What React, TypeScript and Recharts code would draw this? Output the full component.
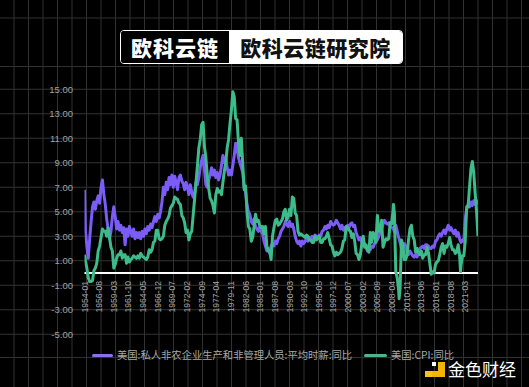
import React from 'react';
import { LineChart, Line, XAxis, YAxis, CartesianGrid, ReferenceLine } from 'recharts';

const W = 529;
const H = 387;
const X_AXIS_H = 1;
const MARGIN = { top: 89.25, right: 51, bottom: 52.75 - X_AXIS_H, left: 44.5 };
const Y_AXIS_W = 40;
const Y_MIN = -5;
const Y_MAX = 15;
const Y_TICKS = [-5, -3, -1, 1, 3, 5, 7, 9, 11, 13, 15];
const START_YEAR = 1954;
const LAST_MONTH = '2023-06';

const X_TICK_LABELS = [
  '1954-01', '1956-08', '1959-03', '1961-10', '1964-05', '1966-12', '1969-07', '1972-02', '1974-09',
  '1977-04', '1979-11', '1982-06', '1985-01', '1987-08', '1990-03', '1992-10', '1995-05', '1997-12',
  '2000-07', '2003-02', '2005-09', '2008-04', '2010-11', '2013-06', '2016-01', '2018-08', '2021-03',
];

const SERIES_NAMES = ['美国:私人非农企业生产和非管理人员:平均时薪:同比', '美国:CPI:同比'];
const SERIES_COLORS = ['#7b5cf7', '#3dbb8b'];
const LEGEND_COLORS = ['#8a6ff2', '#4fb48c'];

const MONTHS = [
  '1954-01', '1954-03', '1954-06', '1954-09', '1954-12',
  '1955-03', '1955-06', '1955-09', '1955-12',
  '1956-03', '1956-06', '1956-09', '1956-12',
  '1957-03', '1957-06', '1957-09', '1957-12',
  '1958-03', '1958-06', '1958-09', '1958-12',
  '1959-03', '1959-06', '1959-09', '1959-12',
  '1960-03', '1960-06', '1960-09', '1960-12',
  '1961-03', '1961-06', '1961-09', '1961-12',
  '1962-03', '1962-06', '1962-09', '1962-12',
  '1963-03', '1963-06', '1963-09', '1963-12',
  '1964-03', '1964-06', '1964-09', '1964-12',
  '1965-03', '1965-06', '1965-09', '1965-12',
  '1966-03', '1966-06', '1966-09', '1966-12',
  '1967-03', '1967-06', '1967-09', '1967-12',
  '1968-03', '1968-06', '1968-09', '1968-12',
  '1969-03', '1969-06', '1969-09', '1969-12',
  '1970-03', '1970-06', '1970-09', '1970-12',
  '1971-03', '1971-06', '1971-09', '1971-12',
  '1972-03', '1972-06', '1972-09', '1972-12',
  '1973-03', '1973-06', '1973-09', '1973-12',
  '1974-03', '1974-06', '1974-09', '1974-12',
  '1975-03', '1975-06', '1975-09', '1975-12',
  '1976-03', '1976-06', '1976-09', '1976-12',
  '1977-03', '1977-06', '1977-09', '1977-12',
  '1978-03', '1978-06', '1978-09', '1978-12',
  '1979-03', '1979-06', '1979-09', '1979-12',
  '1980-03', '1980-06', '1980-09', '1980-12',
  '1981-03', '1981-06', '1981-09', '1981-12',
  '1982-03', '1982-06', '1982-09', '1982-12',
  '1983-03', '1983-06', '1983-09', '1983-12',
  '1984-03', '1984-06', '1984-09', '1984-12',
  '1985-03', '1985-06', '1985-09', '1985-12',
  '1986-03', '1986-06', '1986-09', '1986-12',
  '1987-03', '1987-06', '1987-09', '1987-12',
  '1988-03', '1988-06', '1988-09', '1988-12',
  '1989-03', '1989-06', '1989-09', '1989-12',
  '1990-03', '1990-06', '1990-09', '1990-12',
  '1991-03', '1991-06', '1991-09', '1991-12',
  '1992-03', '1992-06', '1992-09', '1992-12',
  '1993-03', '1993-06', '1993-09', '1993-12',
  '1994-03', '1994-06', '1994-09', '1994-12',
  '1995-03', '1995-06', '1995-09', '1995-12',
  '1996-03', '1996-06', '1996-09', '1996-12',
  '1997-03', '1997-06', '1997-09', '1997-12',
  '1998-03', '1998-06', '1998-09', '1998-12',
  '1999-03', '1999-06', '1999-09', '1999-12',
  '2000-03', '2000-06', '2000-09', '2000-12',
  '2001-03', '2001-06', '2001-09', '2001-12',
  '2002-03', '2002-06', '2002-09', '2002-12',
  '2003-03', '2003-06', '2003-09', '2003-12',
  '2004-03', '2004-06', '2004-09', '2004-12',
  '2005-03', '2005-06', '2005-09', '2005-12',
  '2006-03', '2006-06', '2006-09', '2006-12',
  '2007-03', '2007-06', '2007-09', '2007-12',
  '2008-03', '2008-06', '2008-07', '2008-09', '2008-12',
  '2009-03', '2009-06', '2009-07', '2009-09', '2009-12',
  '2010-03', '2010-06', '2010-09', '2010-12',
  '2011-03', '2011-06', '2011-09', '2011-12',
  '2012-03', '2012-06', '2012-09', '2012-12',
  '2013-03', '2013-06', '2013-09', '2013-12',
  '2014-03', '2014-06', '2014-09', '2014-12',
  '2015-03', '2015-06', '2015-09', '2015-12',
  '2016-03', '2016-06', '2016-09', '2016-12',
  '2017-03', '2017-06', '2017-09', '2017-12',
  '2018-03', '2018-06', '2018-09', '2018-12',
  '2019-03', '2019-06', '2019-09', '2019-12',
  '2020-03', '2020-05', '2020-06', '2020-09', '2020-12',
  '2021-03', '2021-06', '2021-09', '2021-12',
  '2022-03', '2022-06', '2022-09', '2022-12',
  '2023-03', '2023-06',
];

const WAGE = [
  6.8, 3.5, 2.2, 1.2, 2.8,
  4.2, 5.4, 5.8, 5.2,
  5.9, 6.3, 5.7, 7.0,
  7.6, 6.4, 5.6, 4.4,
  3.6, 2.8, 3.4, 4.6,
  5.4, 4.6, 3.6, 4.2,
  3.5, 3.9, 3.3, 3.7,
  2.3, 3.6, 3.0, 3.8,
  3.4, 3.0, 3.6, 2.8,
  3.3, 2.9, 3.3, 2.8,
  3.4, 3.0, 3.6, 3.2,
  3.8, 3.5, 4.0, 3.7,
  4.2, 4.6, 4.2, 4.8,
  4.5, 5.0, 5.8, 7.0,
  6.4, 7.4, 6.8, 7.8,
  7.2, 8.0, 7.0, 7.9,
  7.4, 6.8, 7.8, 8.0,
  7.5, 7.3, 6.8, 7.4,
  7.0, 6.4, 7.2, 6.6,
  6.2, 6.5, 7.4, 7.2,
  7.8, 8.6, 9.2, 9.6,
  8.4, 7.2, 7.0, 7.6,
  8.0, 8.6, 8.0, 8.4,
  7.8, 8.2, 7.6, 8.0,
  8.8, 9.6, 9.0, 9.4,
  8.6, 8.0, 8.4, 8.0,
  8.8, 9.6, 10.6, 10.2,
  9.4, 9.0, 8.6, 8.2,
  7.0, 6.6, 5.6, 5.0,
  4.8, 4.2, 4.0, 4.4,
  3.8, 3.6, 3.4, 3.8,
  3.4, 3.2, 2.6, 2.2,
  1.8, 2.0, 1.6, 2.2,
  2.4, 2.2, 2.6, 2.4,
  2.8, 3.0, 3.4, 3.6,
  3.8, 4.2, 4.0, 3.8,
  4.2, 3.8, 4.0, 3.6,
  3.0, 2.6, 2.4, 2.6,
  2.2, 2.6, 2.4, 2.6,
  2.8, 2.6, 2.9, 2.8,
  3.0, 2.7, 3.1, 3.0,
  2.8, 3.1, 3.0, 3.4,
  3.5, 3.8, 3.6, 3.9,
  3.7, 4.2, 4.0, 3.9,
  4.0, 4.3, 4.1, 3.9,
  3.6, 3.9, 3.5, 3.7,
  3.6, 3.9, 3.7, 4.0,
  4.1, 3.8, 3.9, 3.3,
  3.0, 2.7, 2.9, 2.5,
  2.6, 2.3, 2.1, 1.8,
  1.9, 1.9, 2.2, 2.1,
  2.4, 2.6, 2.7, 3.0,
  3.4, 3.6, 4.0, 4.3,
  4.1, 4.0, 4.1, 3.8,
  3.7, 3.7, 3.6, 3.4, 3.9,
  3.4, 2.9, 2.8, 2.5, 2.0,
  2.0, 2.4, 2.2, 1.6,
  1.5, 1.8, 1.6, 1.4,
  1.3, 1.5, 1.3, 1.7,
  2.0, 2.1, 2.2, 2.0,
  2.3, 2.3, 2.2, 2.0,
  2.0, 2.2, 2.1, 2.6,
  2.7, 3.0, 3.2, 3.0,
  3.3, 3.5, 3.2, 3.6,
  3.9, 3.5, 3.7, 3.4,
  3.2, 3.5, 3.0, 3.3,
  2.8, 2.6, 2.5, 2.7, 2.6,
  4.4, 5.2, 5.6, 5.4,
  5.8, 5.5, 5.9, 5.6,
  5.9, 5.6,
];

const CPI = [
  1.5, 1.0, 0.4, -0.4, -0.7,
  -0.7, -0.6, 0.2, 0.4,
  0.8, 1.8, 2.2, 2.9,
  3.6, 3.4, 3.4, 3.0,
  3.7, 2.9, 2.1, 1.8,
  0.4, 0.7, 1.2, 1.5,
  1.5, 1.8, 1.2, 1.5,
  1.5, 0.8, 1.3, 0.9,
  1.1, 1.2, 1.4, 1.3,
  1.2, 1.4, 1.2, 1.6,
  1.4, 1.3, 1.2, 1.1,
  1.3, 1.9, 1.7, 1.9,
  2.5, 2.6, 3.5, 3.5,
  2.8, 2.7, 2.8, 3.0,
  3.9, 4.2, 4.4, 4.7,
  5.3, 5.5, 5.7, 6.2,
  6.1, 6.0, 5.7, 5.6,
  4.7, 4.5, 4.1, 3.3,
  3.5, 2.7, 3.2, 3.4,
  4.7, 6.0, 7.4, 8.7,
  10.2, 10.9, 12.1, 12.3,
  10.3, 9.4, 7.9, 6.9,
  6.1, 5.9, 5.5, 4.9,
  6.4, 6.9, 6.6, 6.7,
  6.4, 7.4, 8.3, 9.0,
  10.2, 10.9, 12.2, 13.3,
  14.8, 14.4, 12.6, 12.5,
  10.6, 9.6, 11.0, 8.9,
  6.8, 7.1, 5.0, 3.8,
  3.6, 2.6, 2.9, 3.8,
  4.8, 4.2, 4.3, 3.9,
  3.7, 3.8, 3.2, 3.8,
  2.2, 1.8, 1.8, 1.1,
  3.0, 3.7, 4.3, 4.4,
  3.9, 4.0, 4.2, 4.4,
  5.0, 5.2, 4.3, 4.6,
  5.2, 4.7, 6.2, 6.1,
  4.9, 4.7, 3.4, 3.1,
  3.2, 3.1, 3.0, 2.9,
  3.1, 3.0, 2.7, 2.7,
  2.5, 2.5, 3.0, 2.7,
  2.9, 3.0, 2.5, 2.5,
  2.8, 2.8, 3.0, 3.3,
  2.8, 2.3, 2.2, 1.7,
  1.4, 1.7, 1.5, 1.6,
  1.7, 2.0, 2.6, 2.7,
  3.8, 3.7, 3.5, 3.4,
  2.9, 3.2, 2.6, 1.6,
  1.5, 1.1, 1.5, 2.4,
  3.0, 2.1, 2.3, 1.9,
  1.7, 3.3, 2.5, 3.3,
  3.1, 2.5, 4.7, 3.4,
  3.4, 4.3, 2.1, 2.5,
  2.8, 2.7, 2.8, 4.1,
  4.0, 5.0, 5.6, 4.9, 0.1,
  -0.4, -1.4, -2.1, -1.3, 2.7,
  2.3, 1.1, 1.1, 1.5,
  2.7, 3.6, 3.9, 3.0,
  2.7, 1.7, 2.0, 1.7,
  1.5, 1.8, 1.2, 1.5,
  1.5, 2.1, 1.7, 0.8,
  -0.1, 0.1, 0.0, 0.7,
  0.9, 1.0, 1.5, 2.1,
  2.4, 1.6, 2.2, 2.1,
  2.4, 2.9, 2.3, 1.9,
  1.9, 1.6, 1.7, 2.3,
  1.5, 0.1, 0.6, 1.4, 1.4,
  2.6, 5.4, 5.4, 7.0,
  8.5, 9.1, 8.2, 6.5,
  5.0, 3.0,
];

const toIndex = (s: string) => {
  const [y, m] = s.split('-').map(Number);
  return (y - START_YEAR) * 12 + (m - 1);
};

const DATA = MONTHS.map((d, i) => ({ m: toIndex(d), wage: WAGE[i], cpi: CPI[i] }));
const X_TICKS = X_TICK_LABELS.map(toIndex);
const LABEL_BY_INDEX: Record<number, string> = {};
X_TICK_LABELS.forEach((l) => { LABEL_BY_INDEX[toIndex(l)] = l; });

const PLOT_H = H - MARGIN.top - MARGIN.bottom - X_AXIS_H;
const ZERO_Y = MARGIN.top + (PLOT_H * (Y_MAX - 0)) / (Y_MAX - Y_MIN);

const AXIS_FONT = '"Liberation Sans", Arial, sans-serif';
const CJK_FONT = '"Noto Sans CJK SC", "Noto Sans", sans-serif';

const XTick = (props: any) => {
  const { x, payload } = props;
  const ty = ZERO_Y + 8;
  return (
    <text
      x={x}
      y={ty}
      transform={`rotate(-90 ${x} ${ty})`}
      textAnchor="end"
      dy="0.35em"
      fill="#a4a4a4"
      fontSize={8.6}
      fontFamily={AXIS_FONT}
    >
      {LABEL_BY_INDEX[payload.value]}
    </text>
  );
};

const FullWidthHLine = (props: any) => (
  <line x1={0} x2={W} y1={props.y1} y2={props.y2} stroke="#333333" strokeWidth={1} />
);

const BG_V_LINES = Array.from({ length: 37 }, (_, k) => 14 + k * 14.5);
const BG_H_LINES = [18, 66.5, 357.5];

export default function App() {
  return (
    <div
      style={{
        position: 'absolute',
        left: 0,
        top: 0,
        width: W,
        height: H,
        background: '#000',
        overflow: 'hidden',
        fontFamily: CJK_FONT,
      }}
    >
      <svg width={W} height={H} style={{ position: 'absolute', left: 0, top: 0 }}>
        {BG_V_LINES.map((x) => (
          <line key={'v' + x} x1={x} x2={x} y1={0} y2={H} stroke="#313131" strokeWidth={1} />
        ))}
        {BG_H_LINES.map((y) => (
          <line key={'h' + y} x1={0} x2={W} y1={y} y2={y} stroke="#313131" strokeWidth={1} />
        ))}
      </svg>

      <div style={{ position: 'absolute', left: 0, top: 0 }}>
        <LineChart width={W} height={H} data={DATA} margin={MARGIN}>
          <CartesianGrid vertical={false} horizontal={FullWidthHLine} />
          <XAxis
            type="number"
            dataKey="m"
            domain={[0, toIndex(LAST_MONTH)]}
            ticks={X_TICKS}
            interval={0}
            tick={XTick}
            axisLine={false}
            tickLine={false}
            height={X_AXIS_H}
            allowDataOverflow
          />
          <YAxis
            type="number"
            domain={[Y_MIN, Y_MAX]}
            ticks={Y_TICKS}
            interval={0}
            width={Y_AXIS_W}
            axisLine={false}
            tickLine={false}
            tickSize={0}
            tickMargin={11.5}
            tickFormatter={(v: number) => v.toFixed(2)}
            tick={{ fill: '#a0a0a0', fontSize: 9.5, fontFamily: AXIS_FONT }}
          />
          <ReferenceLine y={0} stroke="#ffffff" strokeWidth={2} />
          <Line
            type="linear"
            dataKey="wage"
            name={SERIES_NAMES[0]}
            stroke={SERIES_COLORS[0]}
            strokeWidth={3}
            dot={false}
            isAnimationActive={false}
            strokeLinejoin="round"
          />
          <Line
            type="linear"
            dataKey="cpi"
            name={SERIES_NAMES[1]}
            stroke={SERIES_COLORS[1]}
            strokeWidth={3}
            dot={false}
            isAnimationActive={false}
            strokeLinejoin="round"
          />
        </LineChart>
      </div>

      {/* Title */}
      <div
        style={{
          position: 'absolute',
          left: 120,
          top: 30,
          width: 283,
          height: 34,
          border: '1.5px solid #fff',
          borderRadius: 4,
          boxSizing: 'border-box',
          display: 'flex',
          overflow: 'hidden',
        }}
      >
        <div
          style={{
            width: 108,
            background: '#000',
            color: '#fff',
            fontSize: 21,
            fontWeight: 900,
            letterSpacing: 1,
            display: 'flex',
            alignItems: 'center',
            justifyContent: 'center',
          }}
        >
          欧科云链
        </div>
        <div
          style={{
            flex: 1,
            background: '#fff',
            color: '#111',
            fontSize: 21,
            fontWeight: 900,
            letterSpacing: 0.5,
            display: 'flex',
            alignItems: 'center',
            justifyContent: 'center',
          }}
        >
          欧科云链研究院
        </div>
      </div>

      {/* Legend */}
      {[92, 364].map((left, i) => (
        <div
          key={i}
          style={{
            position: 'absolute',
            left,
            top: 348,
            height: 14,
            display: 'flex',
            alignItems: 'center',
            whiteSpace: 'nowrap',
          }}
        >
          <div
            style={{
              width: i === 0 ? 21 : 23,
              height: 3,
              borderRadius: 1.5,
              background: LEGEND_COLORS[i],
              marginRight: 4,
            }}
          />
          <span style={{ fontSize: 10.3, color: '#a8a8a8', lineHeight: '14px' }}>{SERIES_NAMES[i]}</span>
        </div>
      ))}

      {/* Watermark */}
      <svg width={22} height={18} style={{ position: 'absolute', left: 424, top: 361 }}>
        <rect x={14} y={1} width={7} height={15} fill="#f2b400" />
        <rect x={1} y={10} width={20} height={6} fill="#f2b400" />
        <rect x={1} y={10} width={7} height={6} fill="#f7c21a" />
        <rect x={8} y={1} width={4} height={4} fill="#ffffff" />
      </svg>
      <div
        style={{
          position: 'absolute',
          left: 448,
          top: 358,
          fontSize: 17,
          lineHeight: '22px',
          color: '#fff',
          fontWeight: 400,
          whiteSpace: 'nowrap',
        }}
      >
        金色财经
      </div>
    </div>
  );
}
